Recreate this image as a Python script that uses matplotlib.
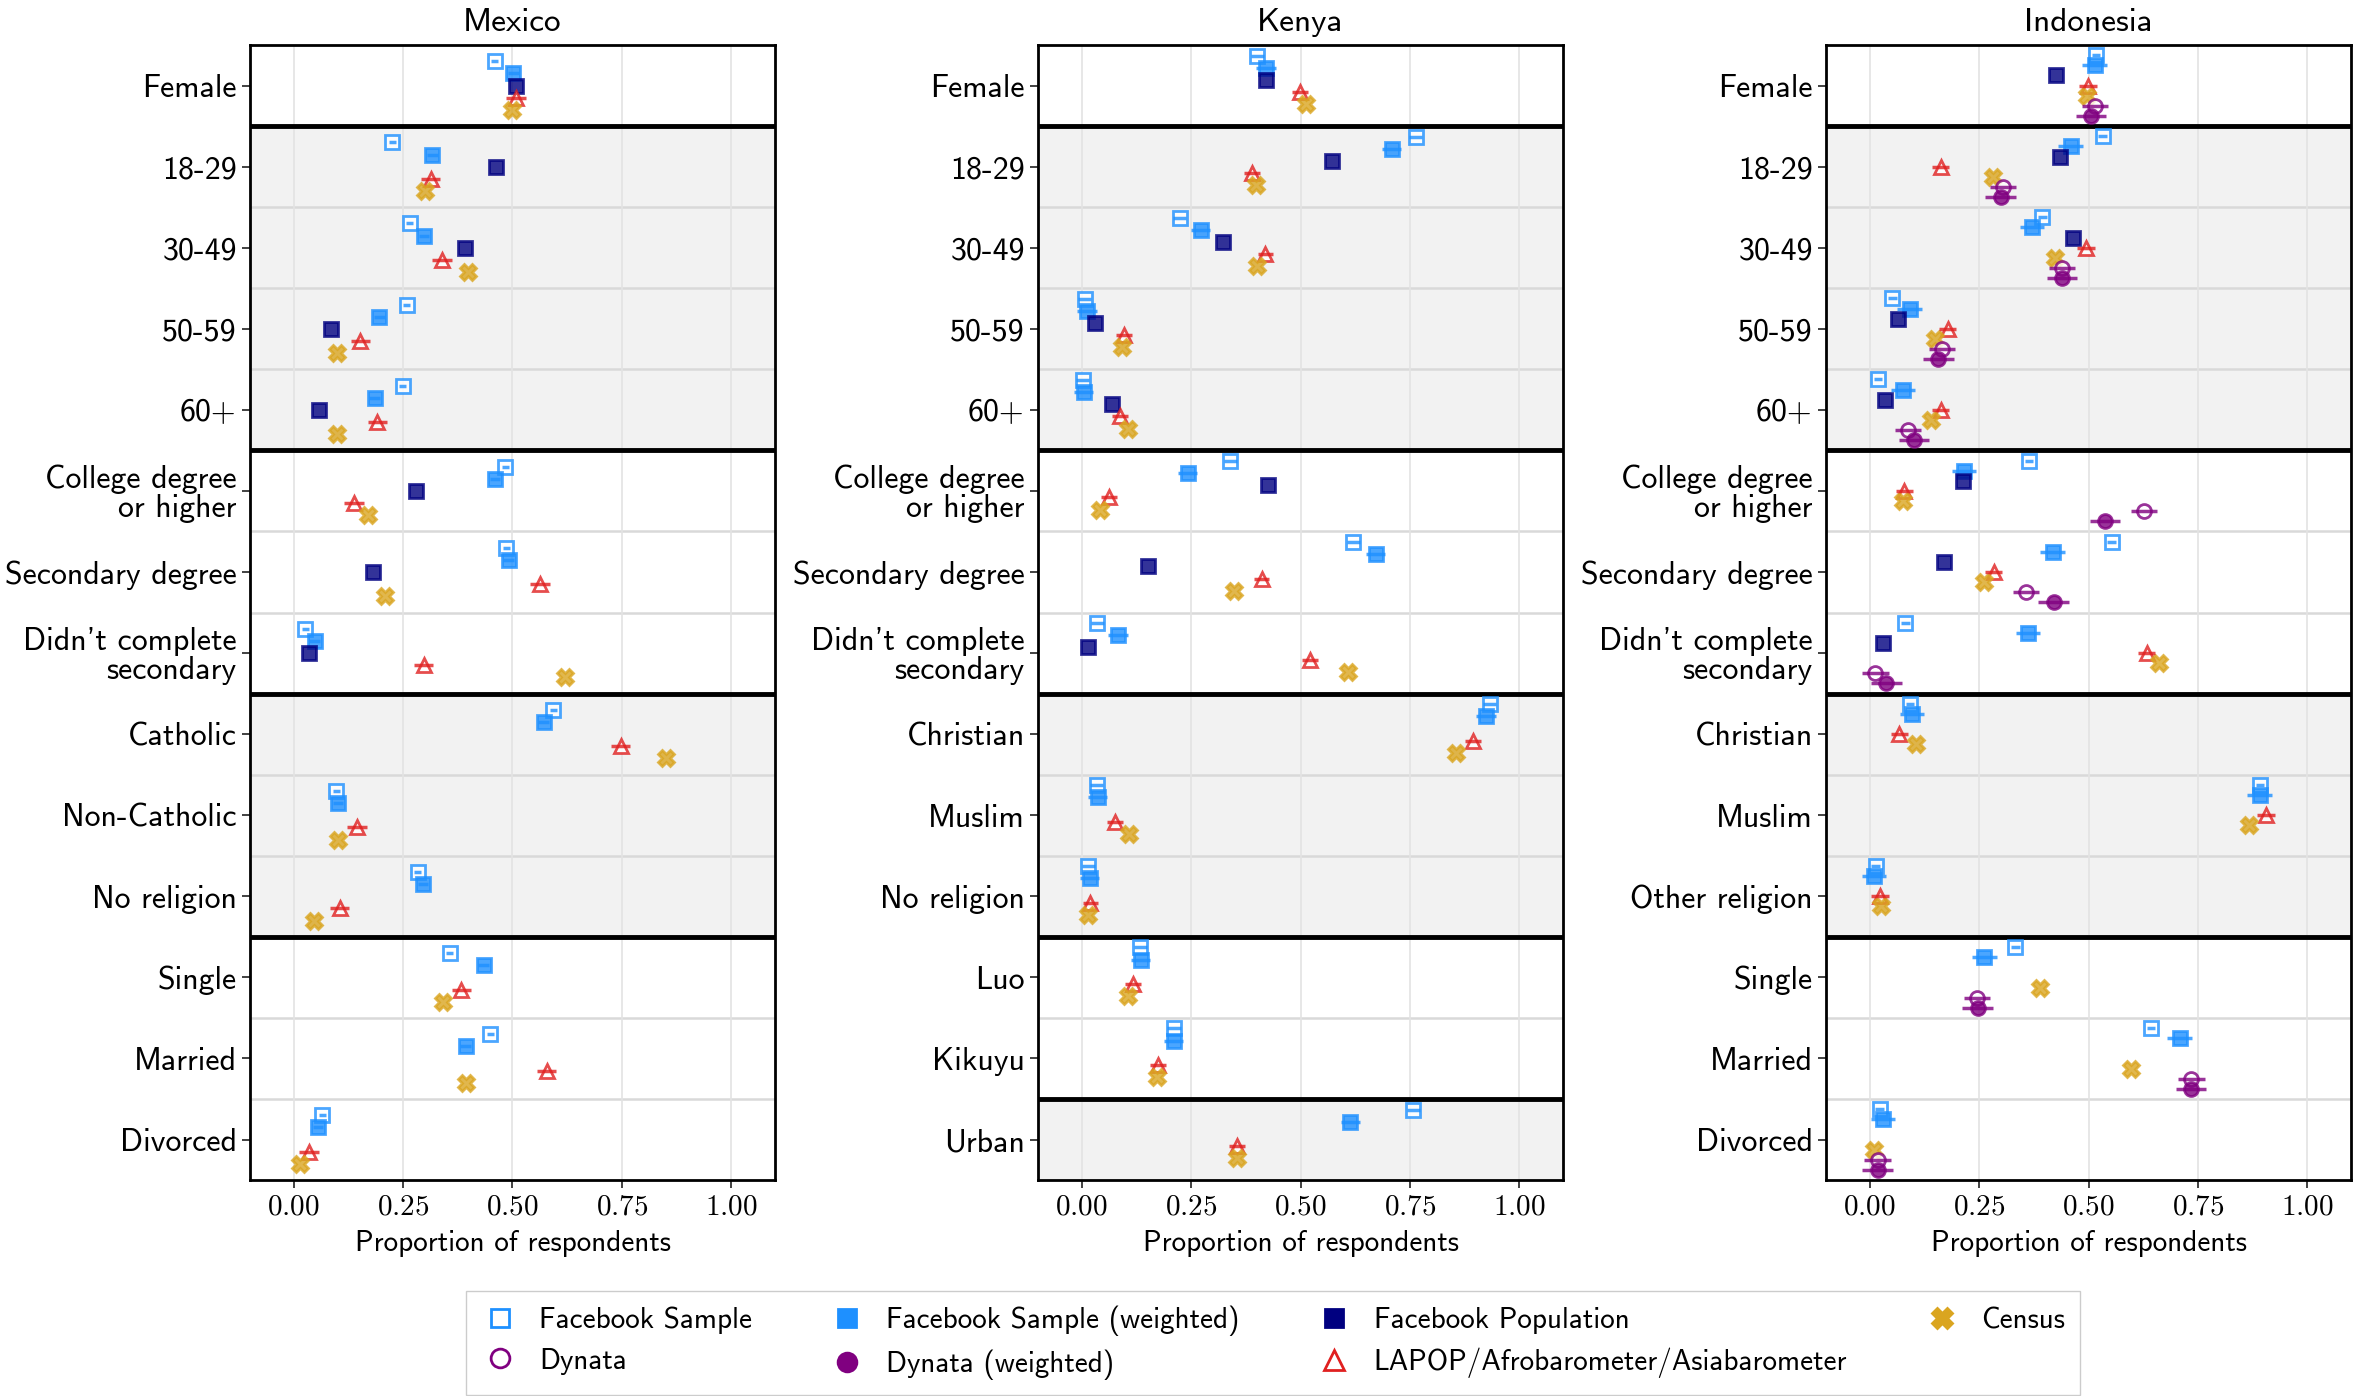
import numpy as np
import matplotlib
matplotlib.use("Agg")
import matplotlib.pyplot as plt
from matplotlib.lines import Line2D

plt.rcParams['font.family'] = ['cmss10', 'DejaVu Sans']
plt.rcParams['mathtext.fontset'] = 'cm'
plt.rcParams['axes.unicode_minus'] = False

nan = np.nan

# ---- rows of each panel (top to bottom)
mexico_rows = ["Female", "18-29", "30-49", "50-59", "60+",
               "College degree\nor higher", "Secondary degree", "Didn't complete\nsecondary",
               "Catholic", "Non-Catholic", "No religion",
               "Single", "Married", "Divorced"]
kenya_rows = ["Female", "18-29", "30-49", "50-59", "60+",
              "College degree\nor higher", "Secondary degree", "Didn't complete\nsecondary",
              "Christian", "Muslim", "No religion",
              "Luo", "Kikuyu", "Urban"]
indonesia_rows = ["Female", "18-29", "30-49", "50-59", "60+",
                  "College degree\nor higher", "Secondary degree", "Didn't complete\nsecondary",
                  "Christian", "Muslim", "Other religion",
                  "Single", "Married", "Divorced"]

# ---- proportions
mexico_fb_sample = [0.46, 0.225, 0.265, 0.258, 0.249, 0.484, 0.486, 0.027, 0.593, 0.097, 0.284, 0.357, 0.449, 0.065]
mexico_fb_weighted = [0.502, 0.317, 0.298, 0.196, 0.185, 0.46, 0.491, 0.048, 0.571, 0.101, 0.296, 0.434, 0.393, 0.056]
mexico_fb_population = [0.509, 0.462, 0.392, 0.085, 0.058, 0.28, 0.181, 0.036, nan, nan, nan, nan, nan, nan]
mexico_lapop = [0.508, 0.313, 0.339, 0.152, 0.191, 0.138, 0.563, 0.297, 0.747, 0.145, 0.105, 0.383, 0.578, 0.035]
mexico_census = [0.499, 0.30, 0.399, 0.099, 0.099, 0.17, 0.209, 0.62, 0.851, 0.101, 0.047, 0.341, 0.393, 0.015]

kenya_fb_sample = [0.401, 0.763, 0.224, 0.007, 0.002, 0.34, 0.621, 0.036, 0.932, 0.034, 0.015, 0.134, 0.211, 0.758]
kenya_fb_weighted = [0.421, 0.708, 0.272, 0.012, 0.005, 0.242, 0.672, 0.083, 0.924, 0.037, 0.018, 0.135, 0.21, 0.614]
kenya_fb_population = [0.422, 0.572, 0.322, 0.03, 0.07, 0.425, 0.152, 0.015, nan, nan, nan, nan, nan, nan]
kenya_lapop = [0.498, 0.389, 0.42, 0.096, 0.088, 0.062, 0.411, 0.522, 0.894, 0.076, 0.02, 0.118, 0.174, 0.355]
kenya_census = [0.513, 0.398, 0.40, 0.093, 0.106, 0.041, 0.347, 0.609, 0.855, 0.107, 0.014, 0.106, 0.172, 0.355]

indonesia_fb_sample = [0.517, 0.532, 0.394, 0.052, 0.019, 0.364, 0.553, 0.081, 0.092, 0.892, 0.014, 0.333, 0.643, 0.023]
indonesia_fb_weighted = [0.514, 0.459, 0.371, 0.091, 0.076, 0.216, 0.418, 0.362, 0.097, 0.891, 0.01, 0.262, 0.708, 0.03]
indonesia_fb_population = [0.426, 0.434, 0.464, 0.064, 0.036, 0.214, 0.17, 0.031, nan, nan, nan, nan, nan, nan]
indonesia_lapop = [0.499, 0.162, 0.494, 0.178, 0.162, 0.079, 0.283, 0.633, 0.068, 0.906, 0.023, nan, nan, nan]
indonesia_census = [0.497, 0.282, 0.424, 0.149, 0.139, 0.075, 0.261, 0.661, 0.106, 0.866, 0.025, 0.389, 0.596, 0.01]
indonesia_dynata = [0.514, 0.305, 0.439, 0.166, 0.088, 0.626, 0.357, 0.013, nan, nan, nan, 0.246, 0.735, 0.018]
indonesia_dynata_weighted = [0.506, 0.299, 0.439, 0.157, 0.101, 0.538, 0.42, 0.038, nan, nan, nan, 0.247, 0.734, 0.018]

# half widths of the horizontal error bars (per series)
mexico_err = [0.008, 0.012, 0.0, 0.022, 0.0]
kenya_err = [0.015, 0.022, 0.0, 0.018, 0.0]
indonesia_err = [0.01, 0.028, 0.0, 0.02, 0.0, 0.03, 0.035]

series_names = ["Facebook Sample", "Facebook Sample (weighted)", "Facebook Population",
                "LAPOP/Afrobarometer/Asiabarometer", "Census", "Dynata", "Dynata (weighted)"]

styles = {
    "Facebook Sample": dict(marker='s', color='#1E90FF', mfc='white', ms=9.5),
    "Facebook Sample (weighted)": dict(marker='s', color='#1E90FF', mfc='#1E90FF', ms=9.5),
    "Facebook Population": dict(marker='s', color='#000080', mfc='#000080', ms=9.5),
    "Dynata": dict(marker='o', color='#800080', mfc='white', ms=10),
    "Dynata (weighted)": dict(marker='o', color='#800080', mfc='#800080', ms=10),
    "LAPOP/Afrobarometer/Asiabarometer": dict(marker='^', color='#E02020', mfc='white', ms=10.5),
    "Census": dict(marker='X', color='#DAA520', mfc='#DAA520', ms=11.5),
}

panels = [
    dict(title="Mexico", rows=mexico_rows,
         data=[mexico_fb_sample, mexico_fb_weighted, mexico_fb_population, mexico_lapop, mexico_census],
         err=mexico_err, spacing=0.15, shift=0.0,
         breaks=[1, 5, 8, 11], shaded=[(1, 5), (8, 11)], left=0.1062),
    dict(title="Kenya", rows=kenya_rows,
         data=[kenya_fb_sample, kenya_fb_weighted, kenya_fb_population, kenya_lapop, kenya_census],
         err=kenya_err, spacing=0.15, shift=-0.07,
         breaks=[1, 5, 8, 11, 13], shaded=[(1, 5), (8, 11), (13, 14)], left=0.4411),
    dict(title="Indonesia", rows=indonesia_rows,
         data=[indonesia_fb_sample, indonesia_fb_weighted, indonesia_fb_population, indonesia_lapop,
               indonesia_census, indonesia_dynata, indonesia_dynata_weighted],
         err=indonesia_err, spacing=0.125, shift=0.0,
         breaks=[1, 5, 8, 11], shaded=[(1, 5), (8, 11)], left=0.776),
]

fig = plt.figure(figsize=(23.53, 13.96), dpi=100)

for p in panels:
    ax = fig.add_axes([p['left'], 0.1547, 0.2232, 0.813])
    n_rows = len(p['rows'])
    rows_y = np.arange(n_rows)
    n_series = len(p['data'])
    center = (n_series - 1) / 2

    # background bands and row separators
    for a, b in p['shaded']:
        ax.axhspan(a - 0.5, b - 0.5, color='#F2F2F2', zorder=0, lw=0)
    for i in range(1, n_rows):
        if i in p['breaks']:
            ax.axhline(i - 0.5, color='black', lw=3.5, zorder=2)
        else:
            ax.axhline(i - 0.5, color='#D9D9D9', lw=1.8, zorder=1)
    for xv in [0, 0.25, 0.5, 0.75, 1.0]:
        ax.axvline(xv, color='#E3E3E3', lw=1.2, zorder=1)

    for k in range(n_series):
        name = series_names[k]
        st = styles[name]
        vals = np.array(p['data'][k], dtype=float)
        y = rows_y + (k - center) * p['spacing'] + p['shift']
        ax.plot(vals, y, ls='none', marker=st['marker'], ms=st['ms'],
                mfc=st['mfc'], mec=st['color'], mew=2, alpha=0.8, zorder=3)
        if p['err'][k] > 0:
            ax.errorbar(vals, y, xerr=p['err'][k], fmt='none', ecolor=st['color'],
                        elinewidth=2.5, capsize=0, alpha=0.8, zorder=4)

    ax.set_xlim(-0.1, 1.1)
    ax.set_ylim(n_rows - 0.5, -0.5)
    ax.set_xticks([0, 0.25, 0.5, 0.75, 1.0])
    ax.set_xticklabels(['$0.00$', '$0.25$', '$0.50$', '$0.75$', '$1.00$'], fontsize=21)
    ax.set_yticks(rows_y)
    ax.set_yticklabels(p['rows'], fontsize=23, linespacing=1.0)
    ax.tick_params(axis='both', length=6, width=1.3, color='#333333')
    ax.set_xlabel("Proportion of respondents", fontsize=21, labelpad=7)
    ax.set_title(p['title'], fontsize=24, pad=10)
    for s in ax.spines.values():
        s.set_linewidth(2)
        s.set_zorder(5)

# legend
handles = []
for name in series_names:
    st = styles[name]
    handles.append(Line2D([], [], ls='none', marker=st['marker'], ms=st['ms'] + 3.5,
                          mfc=st['mfc'], mec=st['color'], mew=2, label=name))
order = [0, 5, 1, 6, 2, 3, 4]
fig.legend([handles[i] for i in order], [series_names[i] for i in order],
           loc='center', bbox_to_anchor=(0.541, 0.038), ncol=4, fontsize=21,
           frameon=True, fancybox=False, edgecolor='#CCCCCC', framealpha=1,
           handlelength=1.3, columnspacing=2.6, handletextpad=0.7,
           borderpad=0.5, labelspacing=0.45)

fig.savefig("out.png", dpi=100)
